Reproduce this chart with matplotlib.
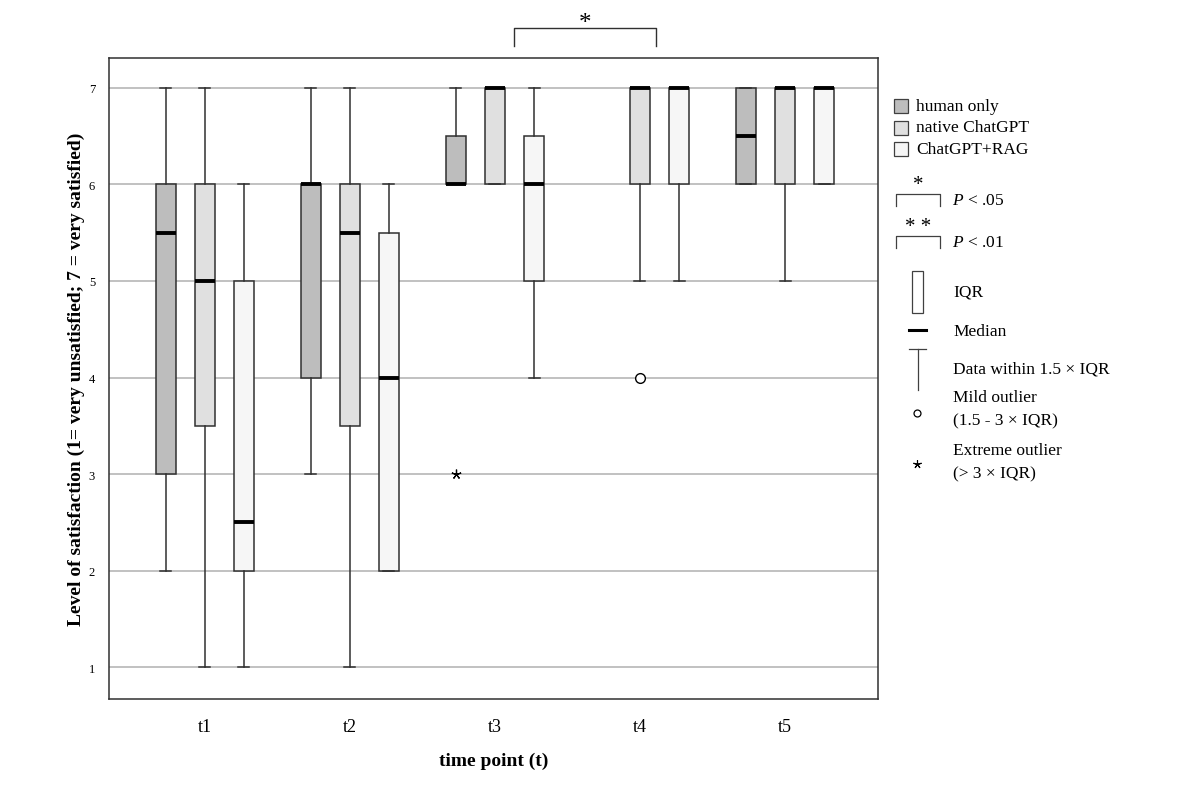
import matplotlib
matplotlib.use('Agg')
import matplotlib.pyplot as plt
import numpy as np
from matplotlib.patches import Rectangle

plt.rcParams['font.family'] = ['Liberation Serif', 'DejaVu Serif']
plt.rcParams['mathtext.fontset'] = 'custom'
plt.rcParams['mathtext.rm'] = 'Liberation Serif'
plt.rcParams['mathtext.it'] = 'Liberation Serif:italic'

# 数据: 每组五个时间点的箱线图统计量 (t4 human only 没有画出)
time_points = ['t1', 't2', 't3', 't4', 't5']
groups = ['human only', 'native ChatGPT', 'ChatGPT+RAG']
colors = ['#bdbdbd', '#e0e0e0', '#f6f6f6']

whislo = {'human only':     [2, 3, 6, np.nan, 6],
          'native ChatGPT': [1, 1, 6, 5, 5],
          'ChatGPT+RAG':    [1, 2, 4, 5, 6]}
q1 = {'human only':     [3, 4, 6, np.nan, 6],
      'native ChatGPT': [3.5, 3.5, 6, 6, 6],
      'ChatGPT+RAG':    [2, 2, 5, 6, 6]}
med = {'human only':     [5.5, 6, 6, np.nan, 6.5],
       'native ChatGPT': [5, 5.5, 7, 7, 7],
       'ChatGPT+RAG':    [2.5, 4, 6, 7, 7]}
q3 = {'human only':     [6, 6, 6.5, np.nan, 7],
      'native ChatGPT': [6, 6, 7, 7, 7],
      'ChatGPT+RAG':    [5, 5.5, 6.5, 7, 7]}
whishi = {'human only':     [7, 7, 7, np.nan, 7],
          'native ChatGPT': [7, 7, 7, 7, 7],
          'ChatGPT+RAG':    [6, 6, 7, 7, 7]}

# 离群值: (时间点序号, 组序号, 值)
mild_outliers = [(3, 1, 4)]
extreme_outliers = [(2, 0, 3)]

# 显著性标注
sig_pair = (3.13, 4.11)
sig_label = '*'

fig = plt.figure(figsize=(12, 8.04), dpi=100)
ax = fig.add_axes([0.0908, 0.1294, 0.6408, 0.7972])

offset = 0.27
width = 0.138
centers = np.arange(1, len(time_points) + 1)

for g_i, g in enumerate(groups):
    stats = []
    pos = []
    for t_i in range(len(time_points)):
        if np.isnan(med[g][t_i]):
            continue
        stats.append({'whislo': whislo[g][t_i], 'q1': q1[g][t_i], 'med': med[g][t_i],
                      'q3': q3[g][t_i], 'whishi': whishi[g][t_i], 'fliers': []})
        pos.append(centers[t_i] + (g_i - 1) * offset)
    ax.bxp(stats, positions=pos, widths=width, capwidths=width * 0.55,
           patch_artist=True, showfliers=False, manage_ticks=False,
           boxprops=dict(facecolor=colors[g_i], edgecolor='#303030', linewidth=1.1),
           medianprops=dict(color='black', linewidth=2.8, solid_capstyle='butt'),
           whiskerprops=dict(color='#303030', linewidth=1.1),
           capprops=dict(color='#303030', linewidth=1.1), zorder=3)

for t_i, g_i, v in mild_outliers:
    ax.plot(centers[t_i] + (g_i - 1) * offset, v, 'o', ms=7, mfc='white', mec='black',
            mew=1.0, zorder=4)
for t_i, g_i, v in extreme_outliers:
    ax.plot(centers[t_i] + (g_i - 1) * offset, v, marker=(5, 2), ms=7, color='black',
            mew=0.9, zorder=4)

ax.set_xlim(0.34, 5.64)
ax.set_ylim(0.67, 7.31)
ax.set_yticks(range(1, 8))
ax.set_xticks(centers)
ax.set_xticklabels(time_points, fontsize=13)
ax.tick_params(axis='y', length=0, labelsize=9, pad=10)
ax.tick_params(axis='x', length=0, pad=14)
ax.yaxis.grid(True, color='#b0b0b0', linewidth=1.1, zorder=0)
ax.set_axisbelow(True)
for s in ax.spines.values():
    s.set_color('#303030')
    s.set_linewidth(1.1)

ax.set_ylabel('Level of satisfaction (1= very unsatisfied; 7 = very satisfied)',
              fontsize=14, fontweight='bold', labelpad=3)
ax.set_xlabel('time point (t)', fontsize=14, fontweight='bold', labelpad=12)

# 显著性括号
x0, x1 = sig_pair
ax.plot([x0, x0, x1, x1], [7.43, 7.62, 7.62, 7.43], color='#303030', lw=1.0,
        clip_on=False)
ax.text((x0 + x1) / 2, 7.67, sig_label, ha='center', va='center', fontsize=18,
        clip_on=False)

# 右侧图例 (像素坐标)
lg = fig.add_axes([0, 0, 1, 1], facecolor='none')
lg.set_xlim(0, 1200)
lg.set_ylim(804, 0)
lg.axis('off')

for i, (g, c) in enumerate(zip(groups, colors)):
    y = 100 + i * 21.5
    lg.add_patch(Rectangle((894, y), 14, 14, facecolor=c, edgecolor='#404040', lw=0.9))
    lg.text(916, y + 7, g, va='center', fontsize=12.5)

for y, stars, p in [(195, '*', '.05'), (237, '* *', '.01')]:
    lg.plot([896, 896, 940, 940], [y + 12, y, y, y + 12], color='#404040', lw=0.9)
    lg.text(918, y - 9, stars, ha='center', va='center', fontsize=15)
    lg.text(952, y + 6, r'$P$ < ' + p, va='center', fontsize=12.5)

lg.add_patch(Rectangle((912, 272), 11, 42, facecolor='white', edgecolor='#404040', lw=0.9))
lg.text(953, 293, 'IQR', va='center', fontsize=12.5)
lg.plot([909, 926], [331, 331], color='black', lw=2.2)
lg.text(953, 332, 'Median', va='center', fontsize=12.5)
lg.plot([909, 926], [350, 350], color='#404040', lw=0.9)
lg.plot([917.5, 917.5], [350, 391], color='#404040', lw=0.9)
lg.text(953, 370, 'Data within 1.5 × IQR', va='center', fontsize=12.5)
lg.plot(917, 414, 'o', ms=5, mfc='white', mec='black', mew=0.9)
lg.text(953, 398, 'Mild outlier', va='center', fontsize=12.5)
lg.text(953, 421, '(1.5 - 3 × IQR)', va='center', fontsize=12.5)
lg.plot(917, 465, marker=(5, 2), ms=6, color='black', mew=0.8)
lg.text(953, 451, 'Extreme outlier', va='center', fontsize=12.5)
lg.text(953, 474, '(> 3 × IQR)', va='center', fontsize=12.5)

fig.savefig('out.png', dpi=100)
